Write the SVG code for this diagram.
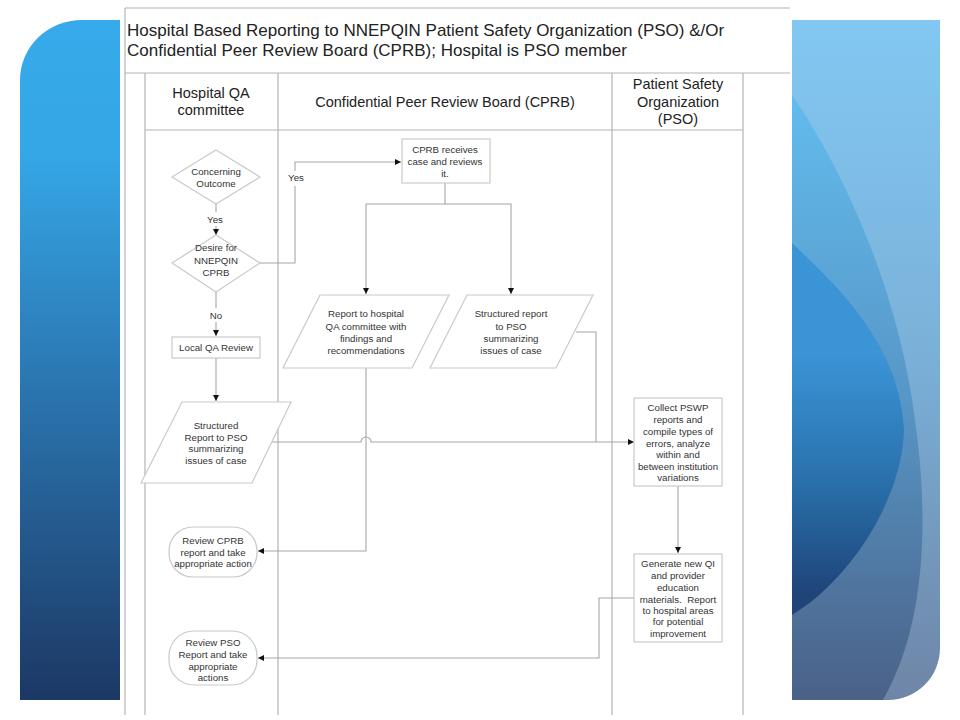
<svg xmlns="http://www.w3.org/2000/svg" width="960" height="720" viewBox="0 0 960 720">
<defs>
<linearGradient id="gL" x1="0" y1="0" x2="0" y2="1">
<stop offset="0" stop-color="#36AAEA"/><stop offset="0.2" stop-color="#35A6E6"/><stop offset="0.55" stop-color="#2A74AE"/><stop offset="1" stop-color="#1C3864"/>
</linearGradient>
<linearGradient id="gR1" x1="0" y1="0" x2="0" y2="1">
<stop offset="0" stop-color="#82C8F2"/><stop offset="0.5" stop-color="#7AB0D8"/><stop offset="1" stop-color="#6E85A6"/>
</linearGradient>
<linearGradient id="gR2" x1="0" y1="0" x2="0" y2="1">
<stop offset="0" stop-color="#62BCEE"/><stop offset="0.5" stop-color="#5796C6"/><stop offset="1" stop-color="#4A6086"/>
</linearGradient>
<linearGradient id="gR3" x1="0" y1="0.3" x2="0" y2="0.95">
<stop offset="0" stop-color="#3A94D6"/><stop offset="0.5" stop-color="#2A72AE"/><stop offset="1" stop-color="#1E4478"/>
</linearGradient>
<clipPath id="cR"><path d="M792,20 H940 V648 A52,52 0 0 1 888,700 H792 Z"/></clipPath>
<marker id="arr" viewBox="0 0 10 10" refX="10" refY="5" markerWidth="6" markerHeight="6" orient="auto" markerUnits="userSpaceOnUse"><path d="M0,0 L10,5 L0,10 z" fill="#111"/></marker>
<style>
.frame{fill:none;stroke:#B4B4B4;stroke-width:1.2}
.node{fill:#fff;stroke:#CACACA;stroke-width:1.2}
.con{fill:none;stroke:#A6A6A6;stroke-width:1.1}
.t{font-family:"Liberation Sans",Arial,sans-serif;font-size:9.7px;fill:#333;text-anchor:middle}
.h{font-family:"Liberation Sans",Arial,sans-serif;font-size:14.5px;fill:#222;text-anchor:middle}
.ti{font-family:"Liberation Sans",Arial,sans-serif;font-size:17px;fill:#222}
</style>
</defs>
<rect width="960" height="720" fill="#fff"/>
<g id="background">
<path d="M120,20 V700 H20 V80 A62,60 0 0 1 82,20 Z" fill="url(#gL)"/>
<g clip-path="url(#cR)">
<rect x="792" y="20" width="148" height="680" fill="url(#gR1)"/>
<path d="M792,95 C850,180 900,300 915,420 C932,540 920,640 880,705 H792 Z" fill="url(#gR2)"/>
<path d="M792,243 C830,280 900,340 904,430 C902,500 850,580 792,615 Z" fill="url(#gR3)"/>
</g>
</g>
<g id="frame">
<path class="frame" d="M125,8 H790 M125,8 V715 M125,73 H790 M145,73 V715 M278,73 V715 M612,73 V715 M743,73 V715 M145,130 H743"/>
<text class="ti" x="127" y="36">Hospital Based Reporting to NNEPQIN Patient Safety Organization (PSO) &amp;/Or</text>
<text class="ti" x="127" y="56">Confidential Peer Review Board (CPRB); Hospital is PSO member</text>
<text class="h" x="211" y="98">Hospital QA</text>
<text class="h" x="211" y="115">committee</text>
<text class="h" x="445" y="107">Confidential Peer Review Board (CPRB)</text>
<text class="h" x="678" y="89">Patient Safety</text>
<text class="h" x="678" y="107">Organization</text>
<text class="h" x="678" y="124">(PSO)</text>
</g>
<g id="connectors">
<path class="con" d="M216,204 V212 M216,226 V235" marker-end="url(#arr)"/>
<path class="con" d="M260,263 H295 V186 M295,171 V162 H401" marker-end="url(#arr)"/>
<path class="con" d="M216,292 V308 M216,322 V336" marker-end="url(#arr)"/>
<path class="con" d="M216,358 V401" marker-end="url(#arr)"/>
<path class="con" d="M445,183 V204 H366 V294" marker-end="url(#arr)"/>
<path class="con" d="M445,204 H511 V294" marker-end="url(#arr)"/>
<path class="con" d="M271,442 H361 A5,5 0 0 1 371,442 H634" marker-end="url(#arr)"/>
<path class="con" d="M576,332 H596 V442"/>
<path class="con" d="M366,368 V551 H258" marker-end="url(#arr)"/>
<path class="con" d="M678,486 V553" marker-end="url(#arr)"/>
<path class="con" d="M634,598 H599 V658 H258" marker-end="url(#arr)"/>
<text class="t" x="215" y="223">Yes</text>
<text class="t" x="296" y="181">Yes</text>
<text class="t" x="216" y="319">No</text>
</g>
<g id="concerning">
<polygon class="node" points="216,150 260,177 216,204 172,177"/>
<text class="t" x="216" y="175">Concerning</text>
<text class="t" x="216" y="187">Outcome</text>
</g>
<g id="desire">
<polygon class="node" points="216,235 260,263 216,292 172,263"/>
<text class="t" x="216" y="251">Desire for</text>
<text class="t" x="216" y="264">NNEPQIN</text>
<text class="t" x="216" y="276">CPRB</text>
</g>
<g id="local-qa">
<rect class="node" x="172" y="337" width="88" height="21"/>
<text class="t" x="216" y="351">Local QA Review</text>
</g>
<g id="structured-hospital">
<polygon class="node" points="182,402 291,402 252,483 141,483"/>
<text class="t" x="216" y="429">Structured</text>
<text class="t" x="216" y="441">Report to PSO</text>
<text class="t" x="216" y="452">summarizing</text>
<text class="t" x="216" y="464">issues of case</text>
</g>
<g id="cprb-receives">
<rect class="node" x="402" y="139" width="88" height="44"/>
<text class="t" x="445" y="153">CPRB receives</text>
<text class="t" x="445" y="165">case and reviews</text>
<text class="t" x="445" y="177">it.</text>
</g>
<g id="report-qa">
<polygon class="node" points="320,295 449,295 412,368 283,368"/>
<text class="t" x="366" y="317">Report to hospital</text>
<text class="t" x="366" y="330">QA committee with</text>
<text class="t" x="366" y="342">findings and</text>
<text class="t" x="366" y="354">recommendations</text>
</g>
<g id="structured-cprb">
<polygon class="node" points="467,295 593,295 556,368 430,368"/>
<text class="t" x="511" y="317">Structured report</text>
<text class="t" x="511" y="330">to PSO</text>
<text class="t" x="511" y="342">summarizing</text>
<text class="t" x="511" y="354">issues of case</text>
</g>
<g id="review-cprb">
<rect class="node" x="169" y="527" width="88" height="50" rx="24" ry="24"/>
<text class="t" x="213" y="544">Review CPRB</text>
<text class="t" x="213" y="556">report and take</text>
<text class="t" x="213" y="567">appropriate action</text>
</g>
<g id="review-pso">
<rect class="node" x="169" y="631" width="88" height="54" rx="25" ry="25"/>
<text class="t" x="213" y="646">Review PSO</text>
<text class="t" x="213" y="658">Report and take</text>
<text class="t" x="213" y="670">appropriate</text>
<text class="t" x="213" y="681">actions</text>
</g>
<g id="collect">
<rect class="node" x="634" y="398" width="88" height="88"/>
<text class="t" x="678" y="411">Collect PSWP</text>
<text class="t" x="678" y="423">reports and</text>
<text class="t" x="678" y="435">compile types of</text>
<text class="t" x="678" y="447">errors, analyze</text>
<text class="t" x="678" y="458">within and</text>
<text class="t" x="678" y="470">between institution</text>
<text class="t" x="678" y="481">variations</text>
</g>
<g id="generate">
<rect class="node" x="634" y="554" width="88" height="88"/>
<text class="t" x="678" y="567">Generate new QI</text>
<text class="t" x="678" y="579">and provider</text>
<text class="t" x="678" y="591">education</text>
<text class="t" x="678" y="603" xml:space="preserve">materials.  Report</text>
<text class="t" x="678" y="614">to hospital areas</text>
<text class="t" x="678" y="625">for potential</text>
<text class="t" x="678" y="637">improvement</text>
</g>
</svg>
